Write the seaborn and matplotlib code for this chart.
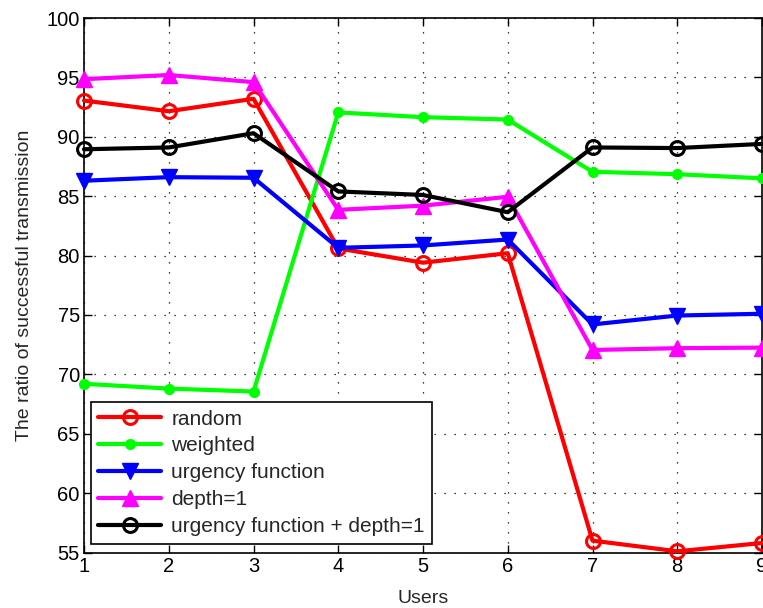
import matplotlib
matplotlib.use("Agg")
import matplotlib.pyplot as plt
import seaborn as sns
import pandas as pd

users = [1, 2, 3, 4, 5, 6, 7, 8, 9]
random_vals = [93.05, 92.15, 93.2, 80.6, 79.4, 80.2, 56.0, 55.1, 55.8]
weighted_vals = [69.2, 68.8, 68.55, 92.05, 91.65, 91.45, 87.05, 86.85, 86.5]
urgency_vals = [86.3, 86.6, 86.55, 80.65, 80.85, 81.35, 74.2, 74.95, 75.1]
depth_vals = [94.85, 95.2, 94.6, 83.85, 84.2, 84.95, 72.05, 72.2, 72.25]
urg_depth_vals = [88.95, 89.1, 90.3, 85.4, 85.1, 83.65, 89.1, 89.05, 89.4]

series_names = ["random", "weighted", "urgency function", "depth=1",
                "urgency function + depth=1"]
series_vals = [random_vals, weighted_vals, urgency_vals, depth_vals, urg_depth_vals]

sns.set_theme(style="white")
plt.rcParams["font.family"] = ["Liberation Sans", "DejaVu Sans"]

fig = plt.figure(figsize=(7.63, 6.08), dpi=100)
ax = fig.add_axes([84 / 763, 1 - 552.5 / 608, (762 - 84) / 763, (552.5 - 18) / 608])

styles = [
    dict(color="#ff0000", marker="o", markersize=10, markerfacecolor="none",
         markeredgecolor="#ff0000", markeredgewidth=2.2),
    dict(color="#00ff00", marker="o", markersize=7, markerfacecolor="#00ff00",
         markeredgecolor="#00ff00", markeredgewidth=1),
    dict(color="#0000ff", marker="v", markersize=11, markerfacecolor="#0000ff",
         markeredgecolor="#0000ff", markeredgewidth=1),
    dict(color="#ff00ff", marker="^", markersize=11, markerfacecolor="#ff00ff",
         markeredgecolor="#ff00ff", markeredgewidth=1),
    dict(color="#000000", marker="o", markersize=10, markerfacecolor="none",
         markeredgecolor="#000000", markeredgewidth=2.2),
]

for name, vals, st in zip(series_names, series_vals, styles):
    df = pd.DataFrame({"Users": users, "val": vals})
    sns.lineplot(data=df, x="Users", y="val", ax=ax, label=name, linewidth=3,
                 clip_on=False, zorder=3, **st)

ax.set_xlim(1, 9)
ax.set_ylim(55, 100)
ax.set_xticks(users)
ax.set_yticks(range(55, 101, 5))
ax.grid(True, color="black", linestyle=(0, (1, 7)), linewidth=0.9)
ax.tick_params(axis="both", direction="in", length=6, width=1, labelsize=14.5,
               top=True, right=True, bottom=True, left=True, colors="black",
               pad=3)
for s in ax.spines.values():
    s.set_color("black")
    s.set_linewidth(1.2)
    s.set_visible(True)
ax.set_xlabel("Users", fontsize=14, labelpad=10)
ax.set_ylabel("The ratio of successful transmission", fontsize=14, labelpad=10)

leg = ax.legend(loc="lower left", bbox_to_anchor=(7 / 678, 9 / 534.5),
                borderaxespad=0, fontsize=15,
                frameon=True, fancybox=False, edgecolor="black",
                handlelength=3.0, handletextpad=0.5, borderpad=0.35,
                labelspacing=0.38)
leg.get_frame().set_linewidth(1.2)
leg.get_frame().set_alpha(1)

fig.savefig("out.png", dpi=100)
